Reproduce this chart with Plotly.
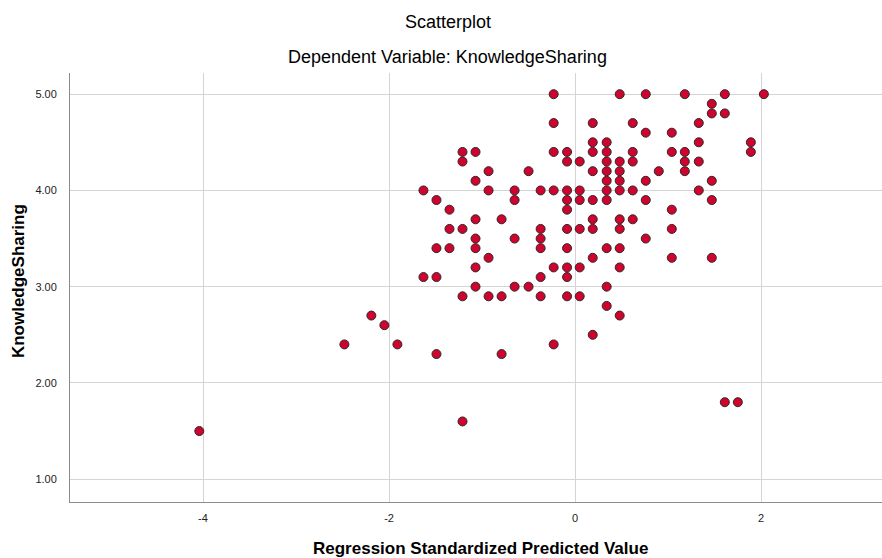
import plotly.graph_objects as go

# Regression standardized predicted values (x) and observed KnowledgeSharing scores (y),
# grouped by score level.
ks_levels = [5.0, 4.9, 4.8, 4.7, 4.6, 4.5, 4.4, 4.3, 4.2, 4.1, 4.0, 3.9, 3.8, 3.7, 3.6,
             3.5, 3.4, 3.3, 3.2, 3.1, 3.0, 2.9, 2.8, 2.7, 2.6, 2.5, 2.4, 2.3, 1.8, 1.6, 1.5]

pred_by_level = [
    [-0.23, 0.48, 0.76, 1.18, 1.61, 2.03],                              # 5.0
    [1.47],                                                             # 4.9
    [1.47, 1.61],                                                       # 4.8
    [-0.23, 0.19, 0.62, 1.33],                                          # 4.7
    [0.76, 1.04],                                                       # 4.6
    [0.19, 0.34, 1.33, 1.89],                                           # 4.5
    [-1.21, -1.07, -0.23, -0.086, 0.19, 0.34, 0.62, 1.04, 1.18, 1.89],  # 4.4
    [-1.21, -0.086, 0.05, 0.34, 0.48, 0.62, 1.18, 1.33],                # 4.3
    [-0.93, -0.50, 0.19, 0.34, 0.48, 0.90, 1.18],                       # 4.2
    [-1.07, 0.34, 0.48, 0.76, 1.47],                                    # 4.1
    [-1.63, -0.93, -0.65, -0.37, -0.23, -0.086, 0.05, 0.34, 0.48, 0.62, 1.33],  # 4.0
    [-1.49, -0.65, -0.086, 0.05, 0.19, 0.34, 0.76, 1.47],               # 3.9
    [-1.35, -0.086, 1.04],                                              # 3.8
    [-1.07, -0.79, 0.19, 0.48, 0.62],                                   # 3.7
    [-1.35, -1.21, -0.37, -0.086, 0.05, 0.19, 0.48, 1.04],              # 3.6
    [-1.07, -0.65, -0.37, 0.76],                                        # 3.5
    [-1.49, -1.35, -1.07, -0.37, -0.086, 0.34, 0.48],                   # 3.4
    [-0.93, 0.19, 1.04, 1.47],                                          # 3.3
    [-1.07, -0.23, -0.086, 0.05, 0.48],                                 # 3.2
    [-1.63, -1.49, -0.37, -0.086],                                      # 3.1
    [-1.07, -0.65, -0.50, 0.34],                                        # 3.0
    [-1.21, -0.93, -0.79, -0.37, -0.086, 0.05],                         # 2.9
    [0.34],                                                             # 2.8
    [-2.19, 0.48],                                                      # 2.7
    [-2.05],                                                            # 2.6
    [0.19],                                                             # 2.5
    [-2.48, -1.91, -0.23],                                              # 2.4
    [-1.49, -0.79],                                                     # 2.3
    [1.61, 1.75],                                                       # 1.8
    [-1.21],                                                            # 1.6
    [-4.04],                                                            # 1.5
]

x_ticks = [-4, -2, 0, 2]
y_ticks = [1, 2, 3, 4, 5]

pred_values = []
ks_values = []
for level, preds in zip(ks_levels, pred_by_level):
    for p in preds:
        pred_values.append(p)
        ks_values.append(level)

fig = go.Figure(
    go.Scatter(
        x=pred_values,
        y=ks_values,
        mode="markers",
        marker=dict(size=9, color="#d0022e", line=dict(color="#2a2a2a", width=1)),
        hoverinfo="x+y",
    )
)

axis_font = dict(family="Liberation Sans, Arial, sans-serif", size=11, color="#222222")

fig.update_xaxes(
    range=[-5.43, 3.30],
    tickvals=x_ticks,
    ticktext=[str(t) for t in x_ticks],
    showgrid=True, gridcolor="#d4d4d4", gridwidth=1,
    zeroline=False,
    showline=True, linecolor="#8c8c8c", linewidth=1,
    ticks="", tickfont=axis_font, ticklabelstandoff=6,
)
fig.update_yaxes(
    range=[0.763, 5.22],
    tickvals=y_ticks,
    tickformat=".2f",
    showgrid=True, gridcolor="#d4d4d4", gridwidth=1,
    zeroline=False,
    showline=True, linecolor="#8c8c8c", linewidth=1,
    ticks="", tickfont=axis_font, ticklabelstandoff=10,
)

title_font = dict(family="Liberation Sans, Arial, sans-serif", size=18, color="#000000")
label_font = dict(family="Liberation Sans, Arial, sans-serif", size=17, color="#000000")

fig.update_layout(
    template="none",
    width=882, height=558,
    margin=dict(l=70, r=0, t=73, b=56),
    paper_bgcolor="white", plot_bgcolor="white",
    showlegend=False,
    annotations=[
        dict(text="Scatterplot", x=0.4655, y=1.118, xref="paper", yref="paper",
             showarrow=False, font=title_font, xanchor="center", yanchor="middle"),
        dict(text="Dependent Variable: KnowledgeSharing", x=0.4655, y=1.0366,
             xref="paper", yref="paper", showarrow=False, font=title_font,
             xanchor="center", yanchor="middle"),
        dict(text="<b>Regression Standardized Predicted Value</b>", x=0.505, y=-0.1095,
             xref="paper", yref="paper", showarrow=False, font=label_font,
             xanchor="center", yanchor="middle"),
        dict(text="<b>KnowledgeSharing</b>", x=-0.064, y=0.515, xref="paper", yref="paper",
             showarrow=False, font=label_font, textangle=-90,
             xanchor="center", yanchor="middle"),
    ],
)

fig.write_html("out.html")
